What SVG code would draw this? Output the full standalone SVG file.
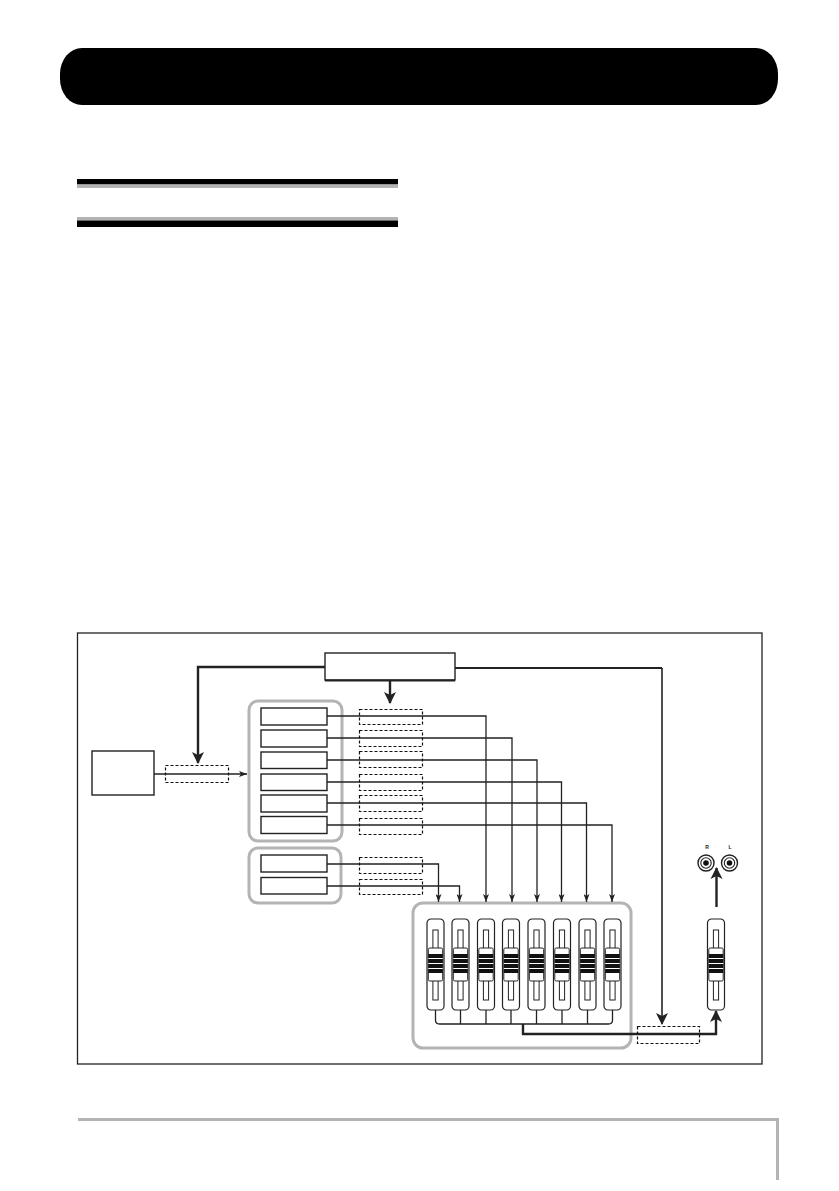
<svg xmlns="http://www.w3.org/2000/svg" width="839" height="1191" viewBox="0 0 839 1191">
<style>
.box{fill:#fff;stroke:#222;stroke-width:1.4}
.dash{fill:none;stroke:#111;stroke-width:1.2;stroke-dasharray:3 2}
.grp{fill:none;stroke:#b4b4b4;stroke-width:3}
.thin{fill:none;stroke:#222;stroke-width:1.3}
.thick{fill:none;stroke:#222;stroke-width:2.4}
.lbl{font-family:"Liberation Sans",Arial,sans-serif;font-size:5px;font-weight:bold;fill:#222;text-anchor:middle}
</style>
<defs>
<marker id="ah" markerUnits="userSpaceOnUse" markerWidth="12" markerHeight="16" refX="11" refY="6" orient="auto" viewBox="0 0 12 12">
<path d="M0,0 L12,6 L0,12 L3,6 Z" fill="#222"/>
</marker>
<marker id="as" markerUnits="userSpaceOnUse" markerWidth="8" markerHeight="6" refX="8" refY="3" orient="auto" viewBox="0 0 8 6">
<path d="M0,0 L8,3 L0,6 L2,3 Z" fill="#222"/>
</marker>
<g id="fader">
<rect x="-8.5" y="0" width="17" height="91" rx="4" fill="#fff" stroke="#222" stroke-width="1.2"/>
<rect x="-2.6" y="11" width="5.2" height="70" fill="#fff" stroke="#222" stroke-width="1"/>
<rect x="-7.2" y="29" width="14.4" height="33" rx="1.5" fill="#fff" stroke="#222" stroke-width="1"/>
<rect x="-7.2" y="35" width="14.4" height="19" fill="#111"/>
<path d="M-7.2,39.5 H7.2 M-7.2,44.5 H7.2 M-7.2,49.5 H7.2" stroke="#fff" stroke-width="1.1"/>
</g>
<g id="knob">
<circle r="8" fill="#fff" stroke="#222" stroke-width="1.4"/>
<circle r="5.2" fill="#fff" stroke="#222" stroke-width="1.1"/>
<circle r="2.8" fill="#111"/>
</g>
</defs>
<rect width="839" height="1191" fill="#fff"/>

<g id="page-header">
<rect x="60" y="48" width="718" height="57" rx="22" ry="26" fill="#000"/>
<rect x="77" y="179" width="321" height="5.5" fill="#000"/>
<rect x="77" y="184.5" width="321" height="3.5" fill="#b3b3b3"/>
<rect x="77" y="217" width="321" height="3.5" fill="#b3b3b3"/>
<rect x="77" y="220.5" width="321" height="6.5" fill="#000"/>
</g>

<g id="footer">
<path d="M78,1119.5 H777.5 V1180" fill="none" stroke="#b3b3b3" stroke-width="3"/>
</g>

<g id="frame">
<rect x="77.5" y="633" width="684.5" height="431" fill="none" stroke="#222" stroke-width="1.3"/>
</g>

<g id="groups">
<rect class="grp" x="249" y="701" width="93" height="140" rx="9"/>
<rect class="grp" x="249" y="848" width="92" height="55" rx="9"/>
<rect class="grp" x="413" y="903" width="218" height="145" rx="10"/>
</g>

<g id="connectors">
<path class="thick" d="M325,667 H198 V763" marker-end="url(#ah)"/>
<path class="thick" d="M390,681 V703" marker-end="url(#ah)"/>
<path fill="none" stroke="#222" stroke-width="2.2" d="M455,668 H662"/>
<path fill="none" stroke="#222" stroke-width="1.6" d="M662,668 V1024" marker-end="url(#ah)"/>
<path class="thin" d="M154,774 H247" marker-end="url(#as)"/>
<path class="thin" d="M327,716 H486 V902" marker-end="url(#as)"/>
<path class="thin" d="M327,738 H512 V902" marker-end="url(#as)"/>
<path class="thin" d="M327,760 H537 V902" marker-end="url(#as)"/>
<path class="thin" d="M327,782 H561.5 V902" marker-end="url(#as)"/>
<path class="thin" d="M327,803 H586.5 V902" marker-end="url(#as)"/>
<path class="thin" d="M327,825 H612 V902" marker-end="url(#as)"/>
<path class="thin" d="M327,864 H438.5 V902" marker-end="url(#as)"/>
<path class="thin" d="M327,886 H459.5 V902" marker-end="url(#as)"/>
<path class="thin" d="M435.5,1010 V1020 Q435.5,1024 439.5,1024 H608.5 Q612.5,1024 612.5,1020 V1010 M460.5,1010 V1024 M486,1010 V1024 M511,1010 V1024 M536.5,1010 V1024 M562,1010 V1024 M587.5,1010 V1024"/>
<path class="thick" d="M523,1024 V1034 H716 V1011" marker-end="url(#ah)"/>
<path class="thick" d="M716.5,907 V868" marker-end="url(#ah)"/>
</g>

<g id="node-topbox">
<rect class="box" x="325" y="653" width="130" height="27"/>
<path d="M325,680.5 H455" stroke="#222" stroke-width="2"/>
</g>

<g id="node-source">
<rect class="box" x="92" y="751" width="62" height="44"/>
</g>
<g id="node-dash-in"><rect class="dash" x="165.5" y="765.5" width="63" height="17"/></g>

<g id="node-ch1"><rect class="box" x="261" y="708" width="66" height="17"/></g>
<g id="node-ch2"><rect class="box" x="261" y="730" width="66" height="17"/></g>
<g id="node-ch3"><rect class="box" x="261" y="752" width="66" height="16.5"/></g>
<g id="node-ch4"><rect class="box" x="261" y="774" width="66" height="16.5"/></g>
<g id="node-ch5"><rect class="box" x="261" y="795" width="66" height="17"/></g>
<g id="node-ch6"><rect class="box" x="261" y="816.5" width="66" height="17"/></g>
<g id="node-ch7"><rect class="box" x="261" y="855" width="66" height="17"/></g>
<g id="node-ch8"><rect class="box" x="261" y="877.5" width="66" height="16.5"/></g>

<g id="node-dash1"><rect class="dash" x="359.5" y="709.5" width="63" height="15"/></g>
<g id="node-dash2"><rect class="dash" x="359.5" y="730.5" width="63" height="16"/></g>
<g id="node-dash3"><rect class="dash" x="359.5" y="751.5" width="63" height="16"/></g>
<g id="node-dash4"><rect class="dash" x="359.5" y="774.5" width="63" height="16"/></g>
<g id="node-dash5"><rect class="dash" x="359.5" y="795.5" width="63" height="16"/></g>
<g id="node-dash6"><rect class="dash" x="359.5" y="818.5" width="63" height="16"/></g>
<g id="node-dash7"><rect class="dash" x="359.5" y="857.5" width="63" height="16"/></g>
<g id="node-dash8"><rect class="dash" x="359.5" y="879.5" width="63" height="15"/></g>
<g id="node-dash-master"><rect class="dash" x="637.5" y="1026.5" width="62" height="17"/></g>

<g id="node-faders">
<use href="#fader" x="435.5" y="919"/>
<use href="#fader" x="460.5" y="919"/>
<use href="#fader" x="486" y="919"/>
<use href="#fader" x="511" y="919"/>
<use href="#fader" x="536.5" y="919"/>
<use href="#fader" x="562" y="919"/>
<use href="#fader" x="587.5" y="919"/>
<use href="#fader" x="612.5" y="919"/>
</g>
<g id="node-master-fader">
<use href="#fader" x="716" y="919"/>
</g>
<g id="node-outputs">
<use href="#knob" x="706" y="863"/>
<use href="#knob" x="729.5" y="863"/>
<text class="lbl" x="707" y="849">R</text>
<text class="lbl" x="730" y="849">L</text>
</g>
</svg>
